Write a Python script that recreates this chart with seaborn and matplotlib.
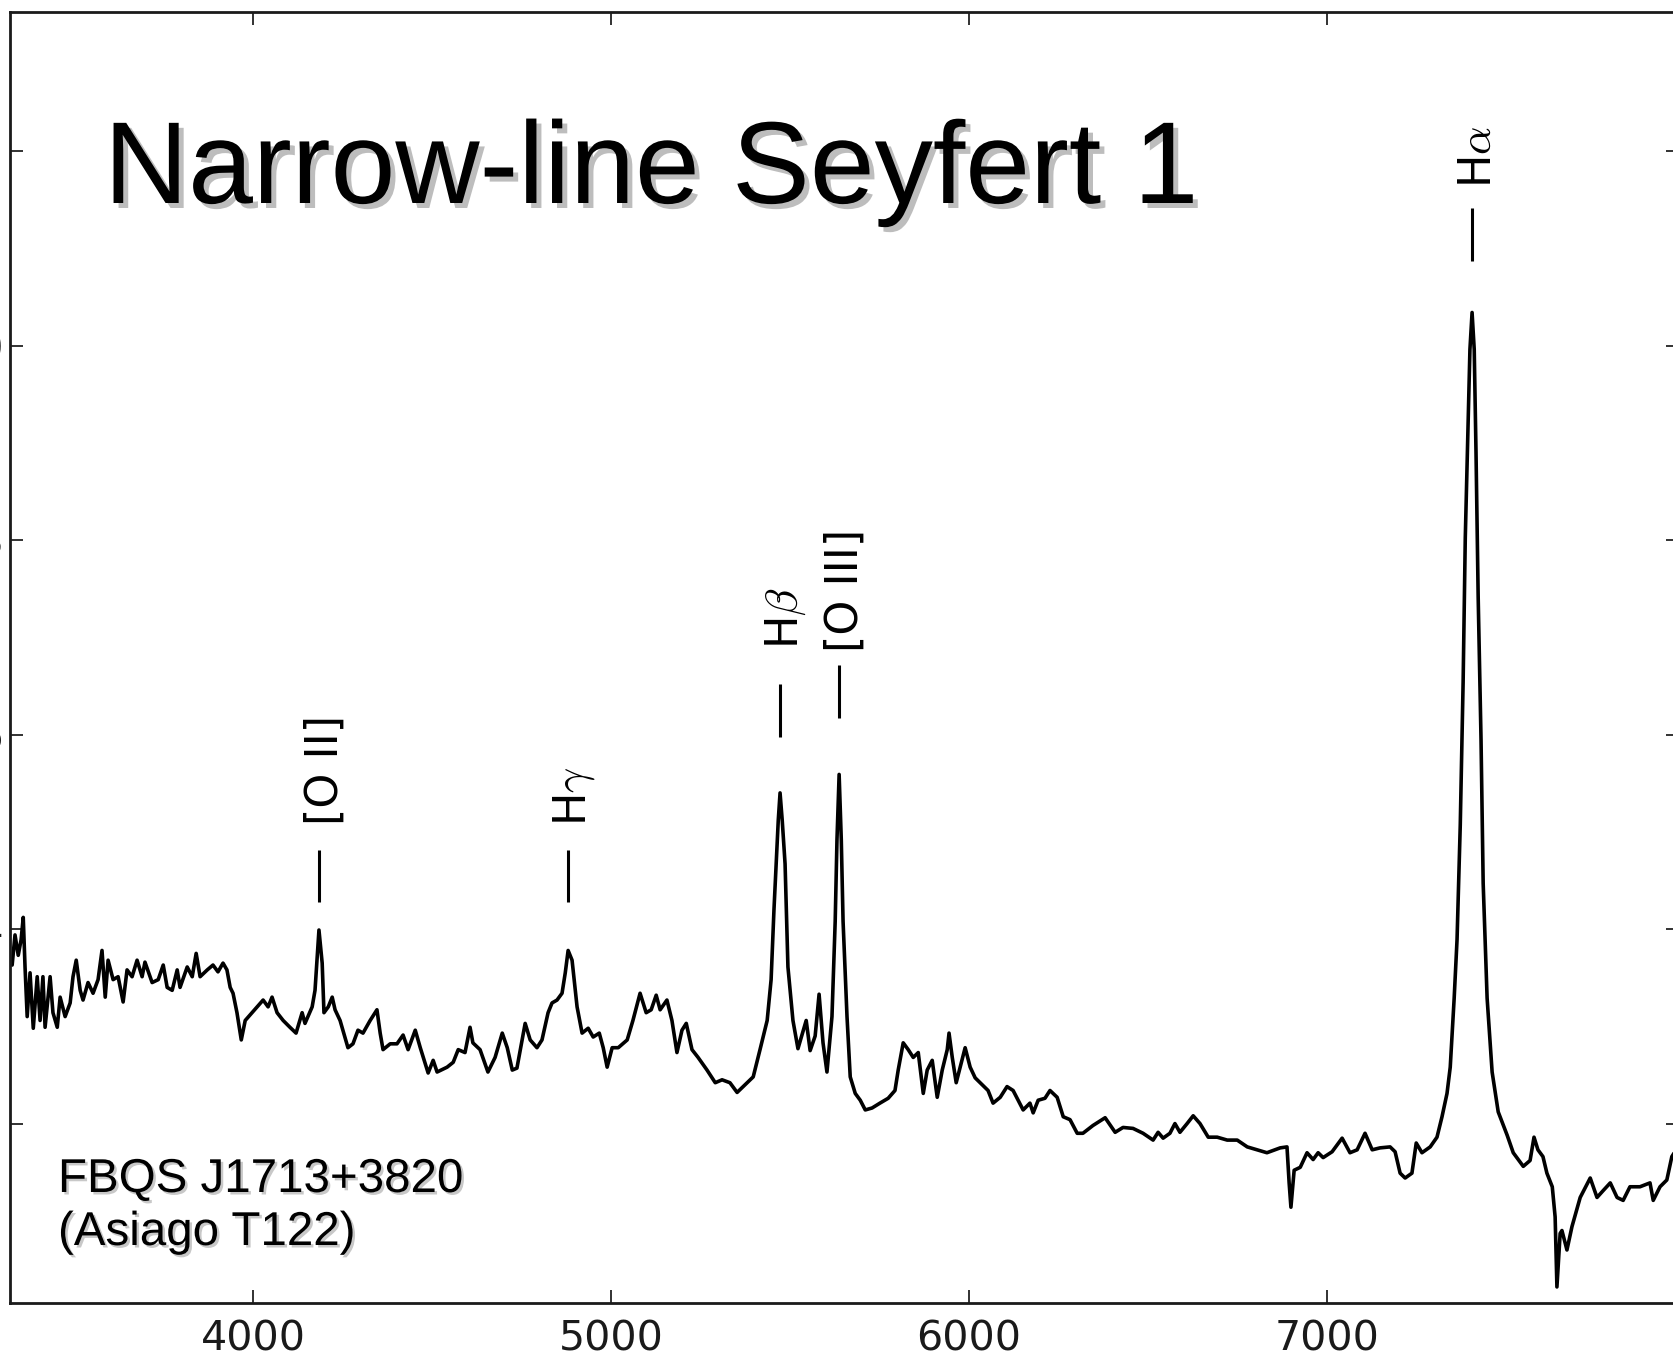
import matplotlib
matplotlib.use("Agg")
import matplotlib.pyplot as plt
import matplotlib.patheffects as pe
import matplotlib.transforms as mtransforms
import pandas as pd
import seaborn as sns

# ---------------- data ----------------
wavelength = [
    3327, 3335, 3344, 3352, 3358, 3363, 3369, 3377, 3386, 3397,
    3405, 3413, 3419, 3433, 3441, 3453, 3461, 3475, 3489, 3497,
    3506, 3517, 3525, 3539, 3553, 3567, 3578, 3587, 3595, 3609,
    3623, 3637, 3648, 3662, 3676, 3690, 3698, 3718, 3735, 3749,
    3760, 3774, 3788, 3796, 3816, 3830, 3841, 3852, 3872, 3888,
    3902, 3916, 3927, 3936, 3944, 3955, 3967, 3978, 3997, 4011,
    4028, 4042, 4053, 4067, 4084, 4103, 4120, 4137, 4145, 4165,
    4173, 4184, 4193, 4198, 4210, 4221, 4229, 4243, 4265, 4279,
    4293, 4307, 4327, 4346, 4355, 4363, 4383, 4402, 4419, 4433,
    4453, 4467, 4489, 4503, 4514, 4542, 4559, 4573, 4592, 4606,
    4614, 4634, 4656, 4676, 4696, 4710, 4724, 4737, 4760, 4774,
    4793, 4807, 4824, 4835, 4849, 4863, 4872, 4880, 4891, 4905,
    4919, 4936, 4950, 4967, 4978, 4989, 5003, 5020, 5045, 5061,
    5081, 5098, 5112, 5126, 5137, 5156, 5170, 5184, 5198, 5210,
    5226, 5243, 5268, 5291, 5310, 5332, 5352, 5380, 5397, 5416,
    5436, 5447, 5455, 5461, 5467, 5472, 5478, 5486, 5494, 5508,
    5522, 5545, 5556, 5570, 5581, 5592, 5603, 5617, 5626, 5631,
    5637, 5643, 5648, 5659, 5668, 5682, 5696, 5710, 5729, 5751,
    5774, 5793, 5802, 5816, 5830, 5844, 5858, 5872, 5883, 5897,
    5911, 5925, 5939, 5944, 5953, 5964, 5975, 5989, 6003, 6017,
    6031, 6053, 6067, 6087, 6106, 6123, 6137, 6151, 6170, 6179,
    6193, 6212, 6226, 6246, 6263, 6282, 6302, 6318, 6346, 6380,
    6408, 6430, 6458, 6486, 6514, 6528, 6542, 6561, 6575, 6589,
    6609, 6626, 6645, 6668, 6693, 6721, 6749, 6777, 6805, 6832,
    6869, 6888, 6894, 6899, 6908, 6925, 6944, 6961, 6975, 6989,
    7014, 7042, 7064, 7084, 7106, 7126, 7148, 7176, 7190, 7204,
    7218, 7237, 7249, 7265, 7288, 7307, 7321, 7335, 7344, 7355,
    7363, 7372, 7380, 7386, 7394, 7399, 7405, 7411, 7416, 7422,
    7430, 7436, 7447, 7461, 7478, 7503, 7520, 7548, 7567, 7578,
    7589, 7603, 7614, 7629, 7637, 7642, 7651, 7656, 7670, 7684,
    7707, 7735, 7754, 7771, 7791, 7810, 7827, 7846, 7874, 7902,
    7911, 7930, 7949, 7963, 7975,
]
flux = [
    0.363, 0.394, 0.373, 0.389, 0.412, 0.361, 0.310, 0.355, 0.298, 0.351,
    0.306, 0.351, 0.299, 0.351, 0.314, 0.299, 0.330, 0.310, 0.324, 0.351,
    0.368, 0.337, 0.327, 0.345, 0.334, 0.348, 0.378, 0.330, 0.368, 0.348,
    0.351, 0.325, 0.358, 0.351, 0.368, 0.351, 0.366, 0.345, 0.348, 0.363,
    0.340, 0.337, 0.358, 0.340, 0.361, 0.351, 0.375, 0.351, 0.358, 0.363,
    0.356, 0.365, 0.358, 0.340, 0.334, 0.314, 0.286, 0.306, 0.314, 0.320,
    0.327, 0.320, 0.330, 0.314, 0.306, 0.299, 0.293, 0.314, 0.303, 0.320,
    0.337, 0.399, 0.365, 0.314, 0.320, 0.330, 0.317, 0.306, 0.278, 0.282,
    0.296, 0.293, 0.306, 0.317, 0.293, 0.276, 0.282, 0.282, 0.291, 0.276,
    0.296, 0.278, 0.252, 0.265, 0.253, 0.258, 0.263, 0.276, 0.273, 0.299,
    0.283, 0.276, 0.253, 0.268, 0.293, 0.278, 0.255, 0.257, 0.303, 0.286,
    0.278, 0.286, 0.314, 0.324, 0.327, 0.334, 0.355, 0.378, 0.368, 0.320,
    0.293, 0.298, 0.289, 0.293, 0.278, 0.258, 0.278, 0.278, 0.286, 0.306,
    0.334, 0.314, 0.317, 0.332, 0.317, 0.327, 0.306, 0.273, 0.296, 0.303,
    0.276, 0.268, 0.255, 0.242, 0.245, 0.242, 0.232, 0.242, 0.248, 0.276,
    0.306, 0.348, 0.420, 0.467, 0.512, 0.540, 0.512, 0.467, 0.361, 0.306,
    0.277, 0.306, 0.275, 0.290, 0.333, 0.283, 0.253, 0.310, 0.408, 0.492,
    0.559, 0.492, 0.408, 0.310, 0.248, 0.231, 0.224, 0.214, 0.216, 0.221,
    0.226, 0.234, 0.255, 0.283, 0.276, 0.268, 0.273, 0.231, 0.255, 0.265,
    0.227, 0.255, 0.276, 0.293, 0.268, 0.242, 0.258, 0.278, 0.258, 0.247,
    0.242, 0.234, 0.221, 0.227, 0.238, 0.234, 0.224, 0.214, 0.221, 0.211,
    0.224, 0.226, 0.234, 0.227, 0.207, 0.204, 0.190, 0.190, 0.198, 0.206,
    0.191, 0.196, 0.195, 0.190, 0.183, 0.191, 0.185, 0.190, 0.200, 0.191,
    0.200, 0.208, 0.200, 0.186, 0.186, 0.183, 0.183, 0.176, 0.173, 0.170,
    0.175, 0.176, 0.139, 0.114, 0.152, 0.155, 0.170, 0.163, 0.170, 0.165,
    0.171, 0.185, 0.170, 0.173, 0.190, 0.173, 0.175, 0.176, 0.171, 0.149,
    0.144, 0.149, 0.180, 0.170, 0.176, 0.186, 0.207, 0.231, 0.258, 0.329,
    0.389, 0.507, 0.654, 0.802, 0.919, 0.996, 1.034, 0.996, 0.890, 0.742,
    0.595, 0.447, 0.329, 0.253, 0.212, 0.188, 0.170, 0.156, 0.162, 0.186,
    0.173, 0.166, 0.149, 0.135, 0.104, 0.032, 0.087, 0.090, 0.070, 0.094,
    0.124, 0.144, 0.124, 0.131, 0.139, 0.124, 0.121, 0.135, 0.135, 0.139,
    0.121, 0.135, 0.142, 0.166, 0.173,
]

line_names = ["[O II]", r"H$\gamma$", r"H$\beta$", "[O III]", r"H$\alpha$"]
line_waves = [4184, 4880, 5472, 5637, 7405]
mark_lo = [0.428, 0.428, 0.597, 0.617, 1.087]
mark_hi = [0.481, 0.481, 0.652, 0.672, 1.141]
label_y = [0.507, 0.506, 0.688, 0.685, 1.162]

x_ticks = [4000, 5000, 6000, 7000]
y_ticks = [0.2, 0.4, 0.6, 0.8, 1.0, 1.2]
y_tick_labels = ["0.2", "0.4", "0.6", "0.8", "1.0", "1.2"]
x_range = (3321, 7983)
y_range = (0.016, 1.3435)

title = "Narrow-line Seyfert 1"
object_name = "FBQS J1713+3820"
telescope = "(Asiago T122)"

# ---------------- figure ----------------
sns.set_theme(style="ticks")
plt.rcParams["font.family"] = ["DejaVu Sans"]
plt.rcParams["mathtext.fontset"] = "cm"

W, H = 1674, 1366
fig = plt.figure(figsize=(W / 100, H / 100), dpi=100)
fig.patch.set_facecolor("white")
ax = fig.add_axes([10 / W, (H - 1302.5) / H, 1669 / W, (1302.5 - 11.5) / H])
ax.set_facecolor("white")

df = pd.DataFrame({"wavelength": wavelength, "flux": flux})
sns.lineplot(data=df, x="wavelength", y="flux", color="black", linewidth=2.6,
             estimator=None, sort=False, ax=ax)

ax.set_xlim(*x_range)
ax.set_ylim(*y_range)
ax.set_xticks(x_ticks)
ax.set_xticklabels([str(t) for t in x_ticks])
ax.set_yticks(y_ticks)
ax.set_yticklabels(y_tick_labels)
ax.set_xlabel("")
ax.set_ylabel("")
ax.tick_params(direction="in", length=9.4, width=1.3, color="#222222",
               top=True, right=True, labelsize=29.6, labelcolor="#1a1a1a")
ax.tick_params(axis="x", pad=12)
ax.tick_params(axis="y", pad=4.5)
for s in ax.spines.values():
    s.set_visible(True)
    s.set_linewidth(2.0)
    s.set_color("#1a1a1a")

# emission line markers and labels
ax.vlines(line_waves, mark_lo, mark_hi, color="black", linewidth=2.2)
text_tr = mtransforms.offset_copy(ax.transData, fig=fig, x=6, y=0, units="dots")
for name, w, y in zip(line_names, line_waves, label_y):
    ax.text(w, y, name, rotation=90, ha="center", va="bottom", fontsize=32,
            color="black", transform=text_tr)

# title with drop shadow
fig.text(104 / W, 1 - 203 / H, title, fontsize=83.9, family="Liberation Sans",
         ha="left", va="baseline", color="black",
         path_effects=[pe.withSimplePatchShadow(offset=(3.6, -3.6),
                                                shadow_rgbFace="#bdbdbd", alpha=1.0)])

shadow_small = [pe.withSimplePatchShadow(offset=(1.8, -1.8),
                                         shadow_rgbFace="#c8c8c8", alpha=1.0)]
fig.text(58 / W, 1 - 1192 / H, object_name, fontsize=34.2, family="Liberation Sans",
         ha="left", va="baseline", color="black", path_effects=shadow_small)
fig.text(58 / W, 1 - 1245 / H, telescope, fontsize=34.2, family="Liberation Sans",
         ha="left", va="baseline", color="black", path_effects=shadow_small)

fig.savefig("out.png", dpi=100, facecolor="white")
